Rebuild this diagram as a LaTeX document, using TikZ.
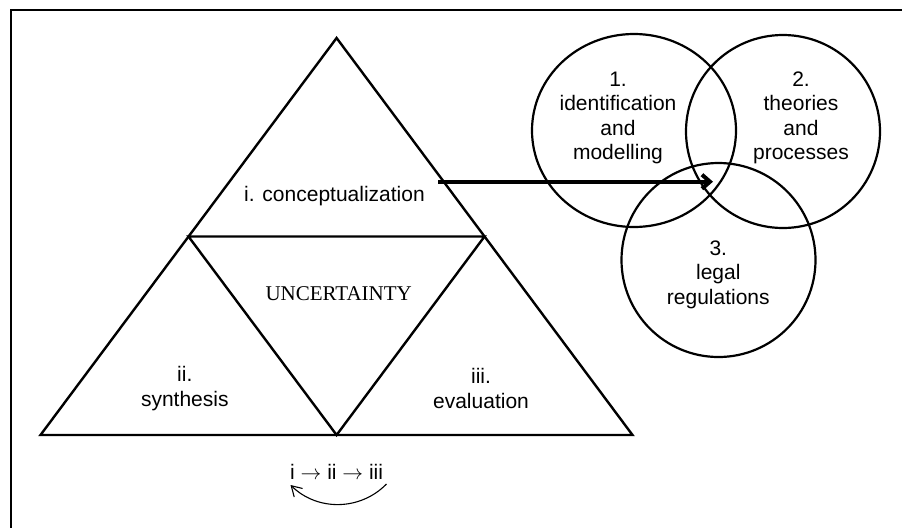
\documentclass[tikz,border=0pt]{standalone}
\usepackage{fontspec}
\setmainfont{Liberation Sans}
\newfontfamily\serifface{Liberation Serif}
\usetikzlibrary{arrows.meta,shapes.geometric}

\tikzset{
  edge/.style={line width=2.4pt, line join=miter},
  venn/.style={draw, ellipse, line width=2.2pt, inner sep=0pt},
  labeltext/.style={font=\fontsize{21}{24.5}\selectfont, align=center, inner sep=0pt},
  flow/.style={-{Straight Barb[length=8pt,width=14pt]}, line width=4pt},
  cyclearrow/.style={-{Straight Barb[length=10pt,width=12pt]}, line width=1.1pt}
}

\begin{document}
\begin{tikzpicture}[x=1pt, y=-1pt]
    \useasboundingbox (0,0) rectangle (902,528);
    \draw[line width=2.4pt] (902,10) -- (11,10) -- (11,528);

    % triangle and inner triangle
    \coordinate (top) at (336.6,38);
    \coordinate (bl) at (40.5,435);
    \coordinate (br) at (632.5,435);
    \coordinate (ml) at (188.5,236.5);
    \coordinate (mr) at (484.5,236.5);
    \coordinate (bm) at (336.6,435);
    \draw[edge] (top) -- (br) -- (bl) -- cycle;
    \draw[edge] (ml) -- (mr) -- (bm) -- cycle;

    \node[labeltext] (concept) at (334.5,196) {i. conceptualization};
    \node[labeltext, font=\serifface\fontsize{21}{24.5}\selectfont] (uncert) at (338.7,294) {UNCERTAINTY};
    \node[labeltext] (synth) at (184.8,388.5) {ii.\\synthesis};
    \node[labeltext] (evalu) at (481,388.5) {iii.\\evaluation};
    \node[labeltext] (order) at (336.6,472) {i $\rightarrow$ ii $\rightarrow$ iii};

    \coordinate (cycR) at (386.5,484);
    \coordinate (cycL) at (290.5,485);
    \draw[cyclearrow] (cycR) to[bend left=45] (cycL);

    % the three circles
    \node[venn, minimum width=204pt, minimum height=193pt] (idc) at (634,130.5) {};
    \node[venn, minimum width=194pt, minimum height=193pt] (thc) at (783,131.5) {};
    \node[venn, minimum width=194pt, minimum height=194pt] (lgc) at (718.5,260) {};
    \node[labeltext] (idt) at (618,118) {1.\\identification\\and\\modelling};
    \node[labeltext] (tht) at (801,118) {2.\\theories\\and\\processes};
    \node[labeltext] (lgt) at (718.3,274.5) {3.\\legal\\regulations};

    \coordinate (flowS) at (438,181.7);
    \coordinate (flowE) at (713,181.7);
    \draw[flow] (flowS) -- (flowE);
\end{tikzpicture}
\end{document}
